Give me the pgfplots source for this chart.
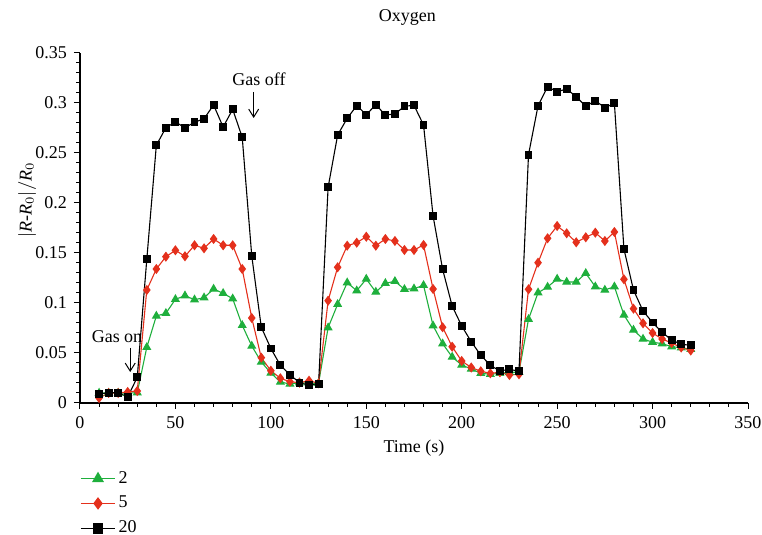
\documentclass[border=0pt]{standalone}
\usepackage{pgfplots}
\pgfplotsset{compat=1.18}
\usepackage{pgfplotstable}
\usepackage{fontspec}
\setmainfont{Liberation Serif}
\usetikzlibrary{arrows.meta}
\definecolor{cgreen}{RGB}{30,175,60}
\definecolor{cred}{RGB}{228,48,28}

\pgfplotstableread{
t v2 v5 v20
10 0.0100 0.0050 0.0090
15 0.0100 0.0100 0.0103
20 0.0100 0.0100 0.0103
25 0.0100 0.0110 0.0060
30 0.0103 0.0120 0.0257
35 0.0557 0.1130 0.1437
40 0.0870 0.1340 0.2577
45 0.0897 0.1463 0.2753
50 0.1037 0.1527 0.2810
55 0.1073 0.1467 0.2753
60 0.1033 0.1577 0.2807
65 0.1053 0.1547 0.2843
70 0.1140 0.1640 0.2980
75 0.1097 0.1577 0.2760
80 0.1043 0.1577 0.2937
85 0.0777 0.1340 0.2657
90 0.0570 0.0850 0.1470
95 0.0410 0.0453 0.0757
100 0.0300 0.0323 0.0545
105 0.0210 0.0247 0.0377
110 0.0190 0.0213 0.0283
115 0.0203 0.0203 0.0203
120 0.0197 0.0223 0.0177
125 0.0197 0.0197 0.0190
130 0.0753 0.1023 0.2157
135 0.0987 0.1357 0.2680
140 0.1203 0.1573 0.2847
145 0.1123 0.1603 0.2973
150 0.1240 0.1663 0.2883
155 0.1110 0.1573 0.2983
160 0.1197 0.1640 0.2880
165 0.1217 0.1620 0.2890
170 0.1137 0.1530 0.2967
175 0.1143 0.1530 0.2977
180 0.1177 0.1580 0.2780
185 0.0773 0.1140 0.1870
190 0.0593 0.0757 0.1337
195 0.0460 0.0563 0.0970
200 0.0380 0.0420 0.0770
205 0.0340 0.0355 0.0613
210 0.0297 0.0317 0.0477
215 0.0287 0.0297 0.0377
220 0.0297 0.0307 0.0320
225 0.0307 0.0280 0.0337
230 0.0307 0.0287 0.0317
235 0.0837 0.1137 0.2483
240 0.1103 0.1403 0.2973
245 0.1160 0.1647 0.3163
250 0.1240 0.1770 0.3113
255 0.1210 0.1697 0.3140
260 0.1210 0.1607 0.3063
265 0.1297 0.1657 0.2967
270 0.1163 0.1703 0.3023
275 0.1130 0.1620 0.2953
280 0.1163 0.1710 0.2997
285 0.0880 0.1237 0.1540
290 0.0730 0.0943 0.1130
295 0.0640 0.0797 0.0920
300 0.0608 0.0700 0.0805
305 0.0593 0.0640 0.0707
310 0.0563 0.0600 0.0630
315 0.0553 0.0555 0.0587
320 0.0537 0.0525 0.0577
}\datatable

\begin{document}
\begin{tikzpicture}[font=\fontsize{9}{11}\selectfont]
\path[use as bounding box] (-40pt,-66pt) rectangle (341pt,201.5pt);
\begin{axis}[
  at={(0,0)}, anchor=origin,
  scale only axis,
  width=334pt, height=175pt,
  xmin=0, xmax=350, ymin=0, ymax=0.35,
  clip=false,
  axis x line=bottom, axis y line=left,
  axis line style={-, line width=0.6pt},
  xtick={0,50,...,350},
  ytick={0,0.05,...,0.35},
  minor x tick num=4, minor y tick num=4,
  tick align=outside,
  major tick length=3pt, minor tick length=1.8pt,
  tick style={line width=0.5pt, black},
  scaled y ticks=false,
  yticklabel style={/pgf/number format/fixed, /pgf/number format/precision=2},
  /pgf/number format/assume math mode=true,
  xlabel={Time (s)},
  xlabel style={at={(axis description cs:0.5,-0.128)}, anchor=center},
  ylabel={$|$\textit{R}-\textit{R}$_0|/$\textit{R}$_0$},
  ylabel style={at={(axis description cs:-0.079,0.58)}, anchor=center},
  legend style={draw=none, fill=none, at={(axis description cs:0,-0.185)}, anchor=north west,
    inner xsep=0pt, inner ysep=0pt, row sep=2pt, nodes={inner sep=1.5pt}, font=\fontsize{9}{11}\selectfont},
  legend cell align=left,
  every axis plot/.append style={line width=0.55pt},
]
\addplot[cgreen, mark=triangle*, mark size=2.1pt, mark options={fill=cgreen}, legend image post style={mark size=2.9pt}] table[x=t,y=v2] {\datatable};
\addlegendentry{2}
\addplot[cred, mark=diamond*, mark size=2.1pt, mark options={fill=cred}, legend image post style={mark size=2.7pt}] table[x=t,y=v5] {\datatable};
\addlegendentry{5}
\addplot[black, mark=square*, mark size=1.7pt, mark options={fill=black}, legend image post style={mark size=2.4pt}] table[x=t,y=v20] {\datatable};
\addlegendentry{20}
\node[anchor=base] at (rel axis cs:0.49,1.0886) {Oxygen};
\node at (axis cs:19.4,0.0663) {Gas on};
\draw[-{Straight Barb[length=4pt,width=5pt]}, line width=0.5pt] (axis cs:26.3,0.055) -- (axis cs:26.3,0.031);
\node at (axis cs:93.8,0.3237) {Gas off};
\draw[-{Straight Barb[length=4pt,width=5pt]}, line width=0.5pt] (axis cs:91,0.311) -- (axis cs:91,0.285);
\end{axis}
\end{tikzpicture}
\end{document}
